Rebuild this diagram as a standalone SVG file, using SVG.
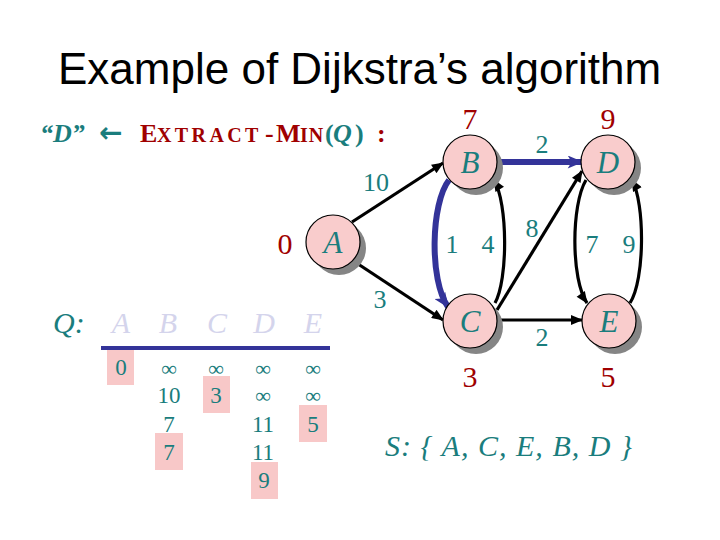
<svg xmlns="http://www.w3.org/2000/svg" width="720" height="540" viewBox="0 0 720 540">
<style>
.ser{font-family:"Liberation Serif","Times New Roman",serif}
.teal{fill:#1a7d7d}
.red{fill:#a00000}
.nl{font-family:"Liberation Serif","Times New Roman",serif;font-style:italic;font-size:31px;fill:#1a7d7d;text-anchor:middle}
.dist{font-family:"Liberation Serif","Times New Roman",serif;font-size:30px;fill:#a00000;text-anchor:middle}
.el{font-family:"Liberation Serif","Times New Roman",serif;font-size:26px;fill:#1a7d7d;text-anchor:middle}
.shadow{fill:#858585}
.node{fill:#f9cccc;stroke:#000;stroke-width:1.2}
.blk{fill:none;stroke:#000;stroke-width:3.2}
.blu{fill:none;stroke:#333399;stroke-width:6}
.qh{font-family:"Liberation Serif","Times New Roman",serif;font-style:italic;font-size:30px;fill:#d4d4ec;text-anchor:middle}
.qv{font-family:"Liberation Serif","Times New Roman",serif;font-size:23px;fill:#1a7d7d;text-anchor:middle}
.inf{font-family:"Liberation Serif","DejaVu Serif",serif;font-size:22px;fill:#1a7d7d;text-anchor:middle}
.hl{fill:#f8c8c8}
</style>
<defs>
<marker id="ab" viewBox="0 0 12 10" refX="11" refY="5" markerWidth="13" markerHeight="10" orient="auto" markerUnits="userSpaceOnUse"><path d="M0,0 L12,5 L0,10 z" fill="#000"/></marker>
<marker id="au" viewBox="0 0 12 10" refX="11" refY="5" markerWidth="17" markerHeight="13" orient="auto" markerUnits="userSpaceOnUse"><path d="M0,0 L12,5 L0,10 L3,5 z" fill="#333399"/></marker>
</defs>
<rect width="720" height="540" fill="#fff"/>
<text x="58" y="84" font-family="'Liberation Sans',Arial,sans-serif" font-size="44" fill="#000">Example of Dijkstra’s algorithm</text>
<text y="142" class="ser" font-size="26" font-weight="bold"><tspan x="40" class="teal" font-style="italic">“D”</tspan><tspan x="99" class="teal" font-family="'DejaVu Sans',sans-serif" font-size="28">←</tspan><tspan x="140" class="red">E</tspan><tspan x="157" class="red" font-size="20" letter-spacing="3.4">XTRACT</tspan><tspan x="265" class="red">-</tspan><tspan x="276" class="red">M</tspan><tspan x="300" class="red" font-size="20" letter-spacing="1">IN</tspan><tspan x="325" class="teal">(</tspan><tspan x="333" class="teal" font-style="italic">Q</tspan><tspan x="355" class="teal">)</tspan><tspan x="377" class="red">:</tspan></text>
<g id="connectors">
<line class="blk" x1="352" y1="222" x2="443" y2="163" marker-end="url(#ab)"/>
<line class="blk" x1="352" y1="260" x2="443" y2="320" marker-end="url(#ab)"/>
<line class="blu" x1="497" y1="162" x2="582" y2="162" marker-end="url(#au)"/>
<path class="blu" d="M449,180 C431,203 429,280 448,307" marker-end="url(#au)"/>
<path class="blk" d="M495,303 C508,280 508,203 494,180" marker-end="url(#ab)"/>
<line class="blk" x1="497" y1="310" x2="582" y2="171" marker-end="url(#ab)"/>
<line class="blk" x1="497" y1="320" x2="582" y2="320" marker-end="url(#ab)"/>
<path class="blk" d="M586,180 C571,205 571,280 587,303" marker-end="url(#ab)"/>
<path class="blk" d="M630,303 C645,280 645,203 632,180" marker-end="url(#ab)"/>
<text class="el" x="376" y="191">10</text>
<text class="el" x="380" y="308">3</text>
<text class="el" x="542" y="153">2</text>
<text class="el" x="452" y="253">1</text>
<text class="el" x="488" y="253">4</text>
<text class="el" x="532" y="237">8</text>
<text class="el" x="592" y="253">7</text>
<text class="el" x="629" y="253">9</text>
<text class="el" x="542" y="346">2</text>
</g>
<g id="node-A">
<circle class="shadow" cx="339" cy="248" r="27"/>
<circle class="node" cx="333" cy="242" r="27"/>
<text class="nl" x="333" y="253">A</text>
<text class="dist" x="285" y="254">0</text>
</g>
<g id="node-B">
<circle class="shadow" cx="476" cy="168" r="27"/>
<circle class="node" cx="470" cy="162" r="27"/>
<text class="nl" x="470" y="173">B</text>
<text class="dist" x="470" y="129">7</text>
</g>
<g id="node-C">
<circle class="shadow" cx="476" cy="327" r="27"/>
<circle class="node" cx="470" cy="321" r="27"/>
<text class="nl" x="470" y="332">C</text>
<text class="dist" x="470" y="387">3</text>
</g>
<g id="node-D">
<circle class="shadow" cx="614" cy="168" r="27"/>
<circle class="node" cx="608" cy="162" r="27"/>
<text class="nl" x="608" y="173">D</text>
<text class="dist" x="608" y="129">9</text>
</g>
<g id="node-E">
<circle class="shadow" cx="615" cy="327" r="27"/>
<circle class="node" cx="609" cy="321" r="27"/>
<text class="nl" x="609" y="332">E</text>
<text class="dist" x="608" y="387">5</text>
</g>
<g id="queue">
<text x="53" y="333" class="ser teal" font-size="30" font-style="italic">Q:</text>
<text class="qh" x="121" y="333">A</text>
<text class="qh" x="168" y="333">B</text>
<text class="qh" x="217" y="333">C</text>
<text class="qh" x="264" y="333">D</text>
<text class="qh" x="313" y="333">E</text>
<line x1="101" y1="348" x2="330" y2="348" stroke="#333399" stroke-width="4"/>
<rect class="hl" x="107" y="350" width="27" height="35"/>
<rect class="hl" x="155" y="433" width="28" height="37"/>
<rect class="hl" x="203" y="376" width="27" height="37"/>
<rect class="hl" x="251" y="462" width="27" height="37"/>
<rect class="hl" x="299" y="405" width="28" height="37"/>
<text class="qv" x="121" y="375">0</text>
<text class="inf" x="169" y="376">∞</text>
<text class="qv" x="169" y="403">10</text>
<text class="qv" x="169" y="432">7</text>
<text class="qv" x="169" y="460">7</text>
<text class="inf" x="216" y="376">∞</text>
<text class="qv" x="216" y="403">3</text>
<text class="inf" x="263" y="376">∞</text>
<text class="inf" x="263" y="403">∞</text>
<text class="qv" x="263" y="432">11</text>
<text class="qv" x="263" y="460">11</text>
<text class="qv" x="264" y="488">9</text>
<text class="inf" x="313" y="376">∞</text>
<text class="inf" x="313" y="403">∞</text>
<text class="qv" x="313" y="432">5</text>
</g>
<text x="385" y="456" class="ser teal" font-size="30" font-style="italic" textLength="247" lengthAdjust="spacing">S: { A, C, E, B, D }</text>
</svg>
